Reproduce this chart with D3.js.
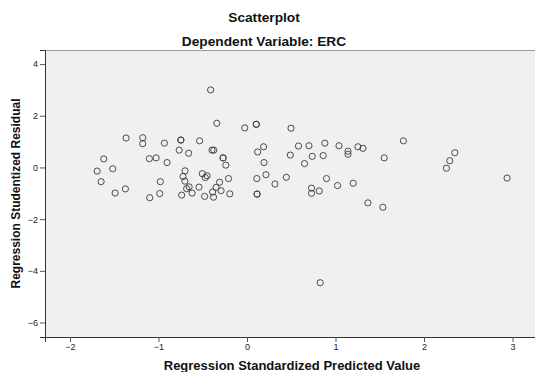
<!DOCTYPE html>
<html>
<head>
<meta charset="utf-8">
<script src="https://cdn.jsdelivr.net/npm/d3@7"></script>
<style>
  html, body { margin: 0; padding: 0; background: #ffffff; }
  svg { display: block; font-family: "Liberation Sans", Arial, sans-serif; }
</style>
</head>
<body>
<svg id="chart" width="535" height="372"></svg>
<script>
// Data: Regression Standardized Predicted Value (x) vs Regression Studentized Residual (y)
const predicted = [
  -0.411, -0.341, -1.366, -1.178, -1.178, -0.933, -0.747, -0.747, -0.535, -0.766,
  -0.659, -0.395, -0.375, -1.618, -1.103, -1.027, -0.903, -1.693, -1.517, -1.648,
  -1.490, -1.374, -0.979, -0.986, -1.099, -0.700, -0.722, -0.702, -0.505, -0.451,
  -0.471, -0.682, -0.654, -0.620, -0.542, -0.738, -0.479, -0.378, -0.388, -0.349,
  -0.310, -0.025, 0.105, 0.105, 0.497, -0.270, -0.270, -0.239, -0.209, -0.293,
  -0.194, 0.120, 0.187, 0.192, 0.111, 0.214, 0.316, 0.444, 0.114, 0.114,
  0.489, 0.582, 0.700, 0.650, 0.737, 0.880, 0.861, 1.039, 1.141, 1.141,
  1.253, 1.310, 0.898, 1.023, 1.200, 0.729, 0.729, 0.816, 1.366, 1.535,
  1.550, 1.767, 2.348, 2.291, 2.253, 2.938, 0.827
];
const residual = [
  3.00, 1.71, 1.14, 1.15, 0.92, 0.94, 1.06, 1.06, 1.03, 0.67,
  0.55, 0.67, 0.67, 0.33, 0.34, 0.37, 0.19, -0.14, -0.05, -0.55,
  -0.99, -0.83, -0.55, -1.01, -1.17, -0.13, -0.35, -0.53, -0.24, -0.32,
  -0.39, -0.82, -0.75, -0.99, -0.76, -1.07, -1.12, -1.15, -0.95, -0.77,
  -0.57, 1.53, 1.67, 1.67, 1.52, 0.37, 0.37, 0.09, -0.43, -0.90,
  -1.02, 0.60, 0.80, 0.19, -0.43, -0.28, -0.64, -0.38, -1.03, -1.03,
  0.48, 0.83, 0.84, 0.15, 0.43, 0.94, 0.46, 0.84, 0.63, 0.51,
  0.80, 0.74, -0.43, -0.70, -0.61, -0.80, -1.00, -0.91, -1.37, -1.54,
  0.37, 1.03, 0.57, 0.26, -0.03, -0.41, -4.46
];
const xTicks = [-2, -1, 0, 1, 2, 3];
const yTicks = [-6, -4, -2, 0, 2, 4];
const xDomain = [-2.282, 3.265];
const yDomain = [-6.56, 4.545];
const titleText = "Scatterplot";
const subtitleText = "Dependent Variable: ERC";
const xTitle = "Regression Standardized Predicted Value";
const yTitle = "Regression Studentized Residual";

const points = predicted.map((p, i) => ({ x: p, y: residual[i] }));

const svg = d3.select("#chart");
const mLeft = 45, mRight = 536, mTop = 50, mBottom = 337;

const x = d3.scaleLinear().domain(xDomain).range([mLeft, mRight]);
const y = d3.scaleLinear().domain(yDomain).range([mBottom, mTop]);

// plot background
svg.append("rect")
  .attr("x", mLeft).attr("y", mTop)
  .attr("width", mRight - mLeft).attr("height", mBottom - mTop)
  .attr("fill", "#f0f0f0");

// top border (gray)
svg.append("line")
  .attr("x1", mLeft).attr("x2", mRight)
  .attr("y1", mTop + 0.5).attr("y2", mTop + 0.5)
  .attr("stroke", "#9a9a9a").attr("stroke-width", 1.2);

// titles
svg.append("text")
  .attr("x", 264).attr("y", 22)
  .attr("text-anchor", "middle")
  .attr("font-size", 13.7).attr("font-weight", "bold").attr("fill", "#111")
  .text(titleText);
svg.append("text")
  .attr("x", 264).attr("y", 46)
  .attr("text-anchor", "middle")
  .attr("font-size", 13.7).attr("font-weight", "bold").attr("fill", "#111")
  .text(subtitleText);

// axes
const xAxis = d3.axisBottom(x).tickValues(xTicks).tickSize(5).tickPadding(2).tickFormat(d3.format("d"));
const yAxis = d3.axisLeft(y).tickValues(yTicks).tickSize(5).tickPadding(2).tickFormat(d3.format("d"));

const gx = svg.append("g").attr("transform", `translate(0,${mBottom})`).call(xAxis);
const gy = svg.append("g").attr("transform", `translate(${mLeft},0)`).call(yAxis);

[gx, gy].forEach(g => {
  g.select(".domain").attr("stroke", "#333").attr("stroke-width", 1);
  g.selectAll(".tick line").attr("stroke", "#555");
  g.selectAll(".tick text")
    .attr("font-size", 9)
    .attr("fill", "#222")
    .attr("font-family", "\"Liberation Sans\", Arial, sans-serif");
});

// axis titles
svg.append("text")
  .attr("x", 292).attr("y", 370)
  .attr("text-anchor", "middle")
  .attr("font-size", 13).attr("font-weight", "bold").attr("fill", "#111")
  .text(xTitle);
svg.append("text")
  .attr("transform", `translate(20,${(mTop + mBottom) / 2}) rotate(-90)`)
  .attr("text-anchor", "middle")
  .attr("font-size", 12).attr("font-weight", "bold").attr("fill", "#111")
  .text(yTitle);

// points
svg.append("g")
  .selectAll("circle")
  .data(points)
  .join("circle")
  .attr("cx", d => x(d.x))
  .attr("cy", d => y(d.y))
  .attr("r", 3.1)
  .attr("fill", "none")
  .attr("stroke", "#3a3a3a")
  .attr("stroke-width", 0.9);
</script>
</body>
</html>
